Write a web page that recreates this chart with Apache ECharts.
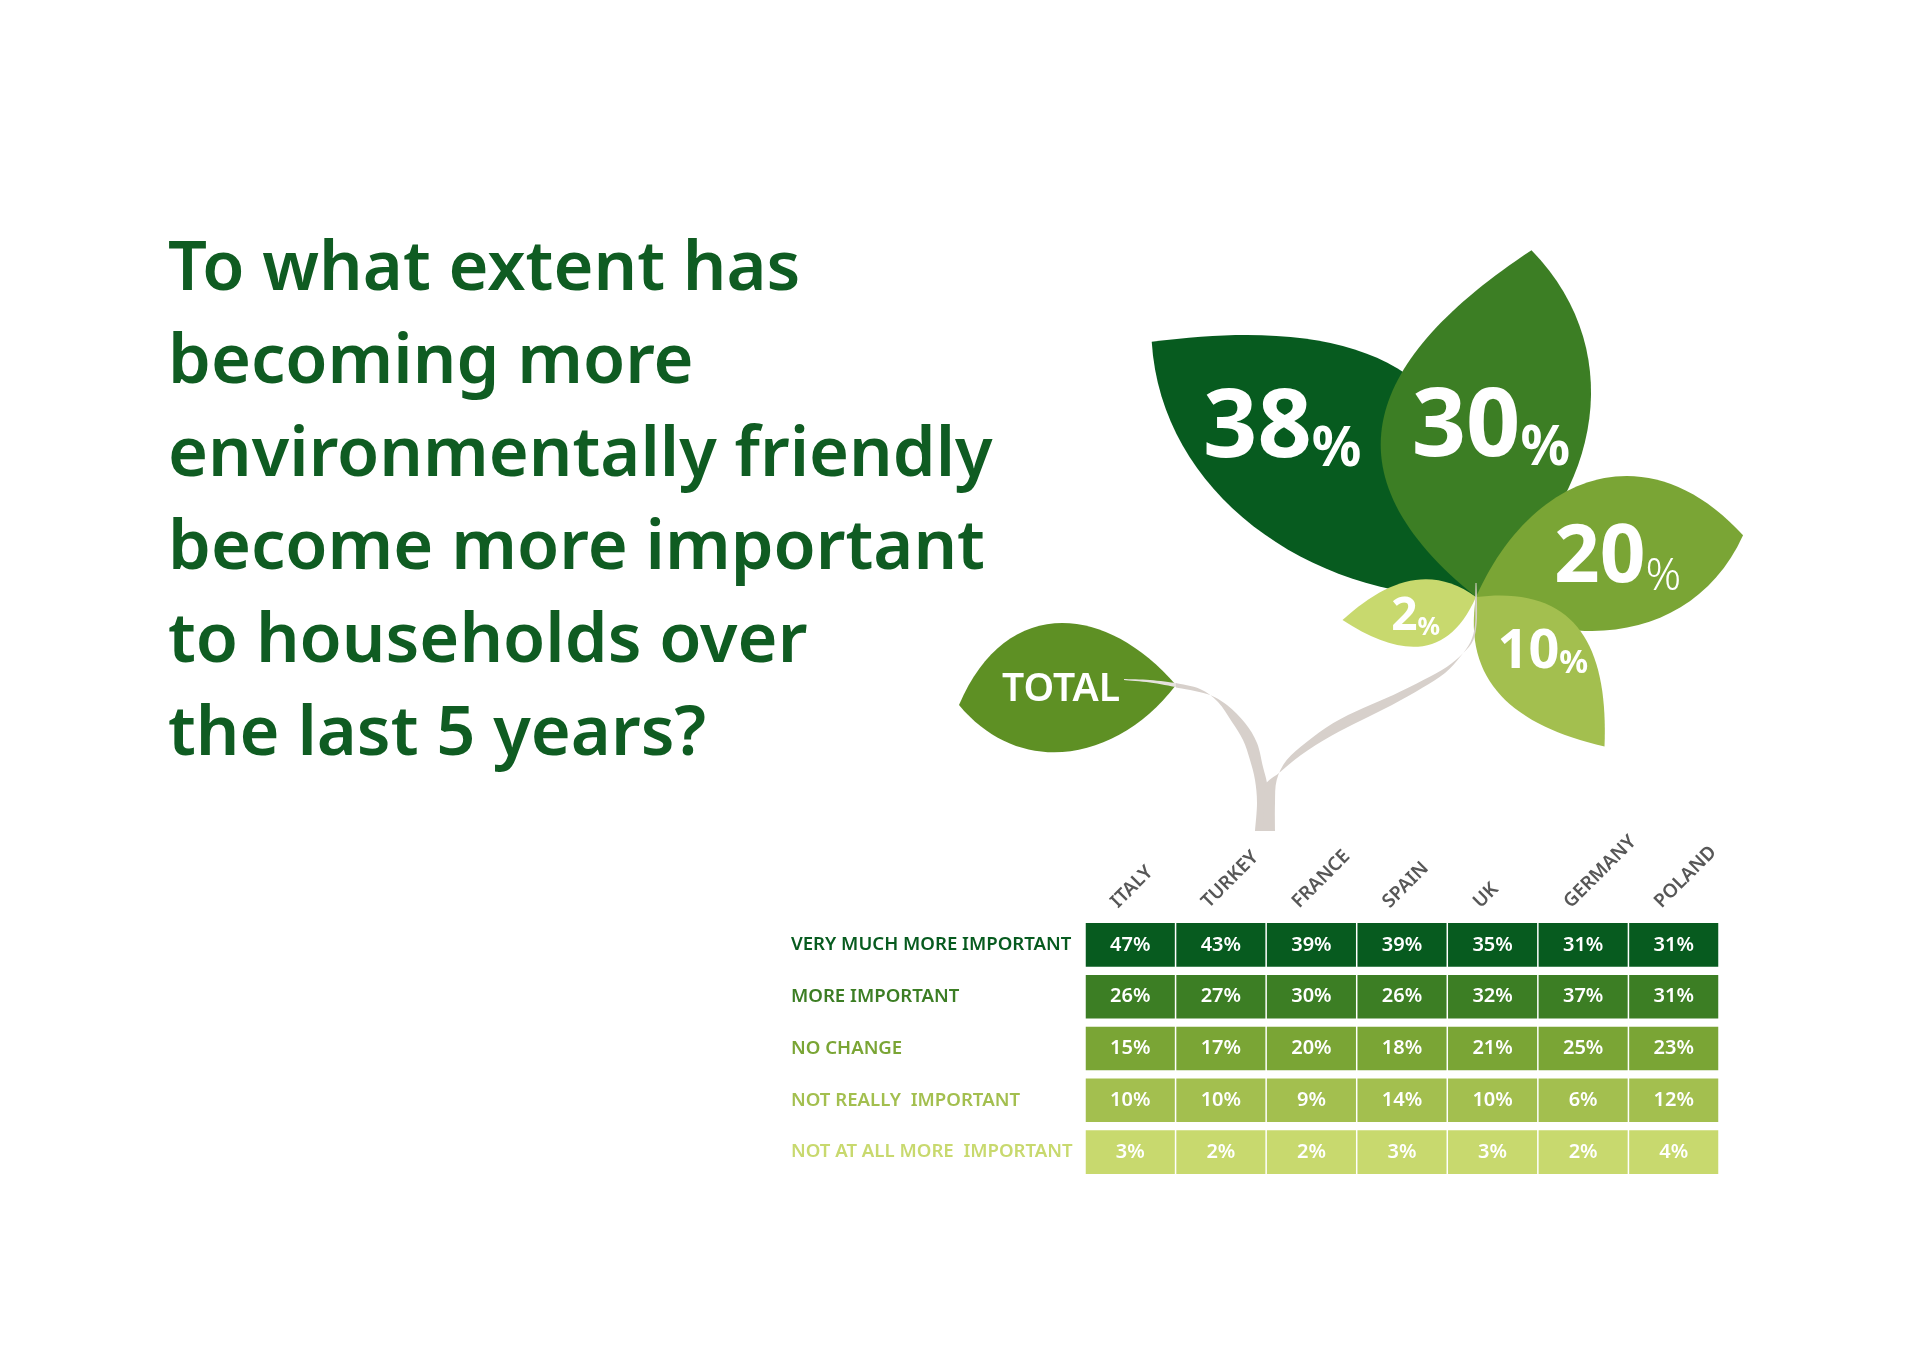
<!DOCTYPE html>
<html>
<head>
<meta charset="utf-8">
<title>Environmentally friendly - importance to households</title>
<script src="https://cdn.jsdelivr.net/npm/echarts@6/dist/echarts.min.js"></script>
<style>
    html, body { margin: 0; padding: 0; background: #ffffff; }
    #chart { width: 1920px; height: 1358px; }
</style>
</head>
<body>
<div id="chart"></div>
<script>
// ---- data ----
const titleLines = [
    'To what extent has',
    'becoming more',
    'environmentally friendly',
    'become more important',
    'to households over',
    'the last 5 years?'
];
const countries = ['ITALY', 'TURKEY', 'FRANCE', 'SPAIN', 'UK', 'GERMANY', 'POLAND'];
const answers = [
    'VERY MUCH MORE IMPORTANT',
    'MORE IMPORTANT',
    'NO CHANGE',
    'NOT REALLY  IMPORTANT',
    'NOT AT ALL MORE  IMPORTANT'
];
const veryMuchMore = [47, 43, 39, 39, 35, 31, 31];
const moreImportant = [26, 27, 30, 26, 32, 37, 31];
const noChange = [15, 17, 20, 18, 21, 25, 23];
const notReally = [10, 10, 9, 14, 10, 6, 12];
const notAtAll = [3, 2, 2, 3, 3, 2, 4];
const totalValues = [38, 30, 20, 10, 2];   // same order as answers
const totalLabel = 'TOTAL';

// ---- styles ----
const FONT = '"Noto Sans", "Open Sans", sans-serif';
const rowColors = ['#075b1f', '#3c7e24', '#7aa535', '#a3bf4f', '#c8d96e'];
const totalLeafColor = '#5e9024';
const stemColor = '#d7d0cb';

// leaf outlines: control points [along1, k1, along2, k2] (k times half width)
const SHAPE_TIP = [0.3, 1.25, 0.75, 1.4];
const SHAPE_MID = [0.28, 1.45, 0.62, 1.22];

// leaf direction (deg, counter-clockwise from east), half widths as share of length,
// label spot along the leaf axis, font sizes
const leafLayout = [
    { angle: 141.8, right: 0.32, left: 0.20, shapeR: SHAPE_MID, shapeL: SHAPE_TIP, along: 0.63, perp: 17, big: 95, small: 55, smallWeight: 700 },
    { angle: 80.9, right: 0.24, left: 0.34, shapeR: SHAPE_TIP, shapeL: SHAPE_MID, along: 0.50, perp: -13, big: 95, small: 55, smallWeight: 700 },
    { angle: 13.0, right: 0.235, left: 0.32, shapeR: SHAPE_TIP, shapeL: SHAPE_TIP, along: 0.54, perp: -11, big: 80, small: 44, smallWeight: 300 },
    { angle: 310.7, right: 0.23, left: 0.29, shapeR: SHAPE_MID, shapeL: SHAPE_MID, along: 0.42, perp: -17, big: 54, small: 32, smallWeight: 700 },
    { angle: 189.8, right: 0.20, left: 0.29, shapeR: SHAPE_MID, shapeL: SHAPE_MID, along: 0.46, perp: -6, big: 46, small: 25, smallWeight: 700 }
];

const tableRows = [veryMuchMore, moreImportant, noChange, notReally, notAtAll];
const cellData = [];
tableRows.forEach((row, r) => row.forEach((v, c) => cellData.push([c, r, v])));

// pointed leaf between base and tip, each side with its own bulge
function leafPath(bx, by, tx, ty, wRight, wLeft, shapeR, shapeL) {
    const dx = tx - bx, dy = ty - by;
    const len = Math.hypot(dx, dy);
    const ux = dx / len, uy = dy / len;
    const nx = -uy, ny = ux;
    const pt = (a, h) => (bx + ux * a * len + nx * h).toFixed(1) + ',' + (by + uy * a * len + ny * h).toFixed(1);
    const r = shapeR, l = shapeL;
    return 'M' + bx + ',' + by +
        'C' + pt(r[0], r[1] * wRight * len) + ' ' + pt(r[2], r[3] * wRight * len) + ' ' + tx + ',' + ty +
        'C' + pt(l[2], -l[3] * wLeft * len) + ' ' + pt(l[0], -l[1] * wLeft * len) + ' ' + bx + ',' + by + 'Z';
}

// smooth outline through points (catmull-rom)
function smoothEdge(pts) {
    let d = '';
    for (let i = 0; i < pts.length - 1; i++) {
        const p0 = pts[i - 1] || pts[i], p1 = pts[i], p2 = pts[i + 1], p3 = pts[i + 2] || p2;
        d += 'C' + (p1[0] + (p2[0] - p0[0]) / 6) + ',' + (p1[1] + (p2[1] - p0[1]) / 6) + ' ' +
            (p2[0] - (p3[0] - p1[0]) / 6) + ',' + (p2[1] - (p3[1] - p1[1]) / 6) + ' ' + p2[0] + ',' + p2[1];
    }
    return d;
}
function bandPath(outer, inner, cx, cy) {
    const o = outer.map(p => [p[0] + cx, p[1] + cy]);
    const n = inner.map(p => [p[0] + cx, p[1] + cy]);
    return 'M' + o[0][0] + ',' + o[0][1] + smoothEdge(o) + 'L' + n[0][0] + ',' + n[0][1] + smoothEdge(n) + 'Z';
}

// stem outlines, relative to where the leaves meet
const leftStemOuter = [[-300, 86], [-276, 92], [-258, 105], [-244, 125], [-233, 143], [-226, 163], [-221, 183], [-219, 206], [-221, 234]];
const leftStemInner = [[-205, 234], [-207, 205], [-209, 186], [-213, 170], [-219, 146], [-231, 126], [-249, 108], [-269, 97], [-300, 90.5]];
const rightStemOuter = [[0.5, -14], [1, 5], [0.7, 26], [-2.7, 43], [-12.7, 56], [-29.3, 70], [-52.7, 83], [-82.7, 98], [-112.7, 111], [-142.7, 126], [-169.3, 145], [-189.3, 163], [-199.3, 183], [-201, 206], [-201, 234]];
const rightStemInner = [[-213, 234], [-212, 205], [-210, 187], [-197, 176], [-175, 158], [-145, 139], [-114, 123], [-84, 108], [-54, 91], [-31, 76], [-16, 60], [-5.5, 45], [-1, 28], [-0.8, 5], [-0.5, -14]];

const chart = echarts.init(document.getElementById('chart'));

const option = {
    backgroundColor: '#ffffff',
    animation: false,
    title: {
        text: titleLines.join('\n'),
        left: 163,
        top: 219,
        textStyle: {
            fontFamily: FONT,
            fontSize: 68.5,
            fontWeight: 600,
            lineHeight: 93,
            color: '#0f5c22'
        }
    },
    grid: { left: 1085, top: 919, width: 634, height: 259 },
    xAxis: {
        type: 'category',
        data: countries,
        position: 'top',
        axisLine: { show: false },
        axisTick: { show: false },
        splitLine: { show: false },
        axisLabel: { show: false }
    },
    yAxis: {
        type: 'category',
        data: answers,
        inverse: true,
        axisLine: { show: false },
        axisTick: { show: false },
        splitLine: { show: false },
        axisLabel: {
            align: 'left',
            margin: 294,
            color: (value, index) => rowColors[index],
            fontFamily: FONT,
            fontSize: 18.6,
            fontWeight: 600
        }
    },
    polar: { center: [1476, 597], radius: 582 },
    angleAxis: { type: 'value', min: 0, max: 360, startAngle: 0, clockwise: false, show: false },
    radiusAxis: { type: 'value', min: -15.6, max: 60, show: false },
    series: [
        {
            name: 'table',
            type: 'custom',
            coordinateSystem: 'cartesian2d',
            data: cellData,
            encode: { x: 0, y: 1 },
            renderItem: function (params, api) {
                const r = api.value(1);
                const p = api.coord([api.value(0), r]);
                const s = api.size([1, 1]);
                const h = s[1] * 0.842;
                return {
                    type: 'group',
                    children: [
                        {
                            type: 'rect',
                            shape: { x: p[0] - s[0] / 2 + 0.75, y: p[1] - h / 2, width: s[0] - 1.5, height: h },
                            style: { fill: rowColors[r] }
                        },
                        {
                            type: 'text',
                            x: p[0],
                            y: p[1],
                            style: {
                                text: api.value(2) + '%',
                                fill: '#ffffff',
                                align: 'center',
                                verticalAlign: 'middle',
                                fontFamily: FONT,
                                fontSize: 20,
                                fontWeight: 600
                            }
                        }
                    ]
                };
            }
        },
        {
            name: 'countries',
            type: 'custom',
            coordinateSystem: 'cartesian2d',
            data: countries.map((c, i) => [i, 0]),
            encode: { x: 0, y: 1 },
            clip: false,
            renderItem: function (params, api) {
                const i = api.value(0);
                const p = api.coord([i, 0]);
                return {
                    type: 'text',
                    x: p[0] - 16,
                    y: params.coordSys.y - 14,
                    rotation: Math.PI / 4,
                    style: {
                        text: countries[i],
                        fill: '#575757',
                        align: 'left',
                        verticalAlign: 'middle',
                        fontFamily: FONT,
                        fontSize: 19,
                        fontWeight: 600
                    }
                };
            }
        },
        {
            name: 'total leaves',
            type: 'custom',
            coordinateSystem: 'polar',
            data: totalValues.map((v, i) => [v, leafLayout[i].angle]),
            renderItem: function (params, api) {
                const i = params.dataIndex;
                const L = leafLayout[i];
                const cx = params.coordSys.cx, cy = params.coordSys.cy;
                const tip = api.coord([api.value(0), api.value(1)]);
                const dx = tip[0] - cx, dy = tip[1] - cy;
                const len = Math.hypot(dx, dy);
                const ux = dx / len, uy = dy / len;
                const lx = cx + ux * L.along * len - uy * L.perp;
                const ly = cy + uy * L.along * len + ux * L.perp + L.big * 0.19;
                return {
                    type: 'group',
                    children: [
                        {
                            type: 'path',
                            shape: { pathData: leafPath(cx, cy, tip[0], tip[1], L.right, L.left, L.shapeR, L.shapeL) },
                            style: { fill: rowColors[i] }
                        },
                        {
                            type: 'text',
                            x: lx,
                            y: ly,
                            style: {
                                text: '{n|' + api.value(0) + '}{p|%}',
                                align: 'center',
                                verticalAlign: 'middle',
                                rich: {
                                    n: {
                                        fill: '#ffffff', fontFamily: FONT, fontWeight: 700,
                                        fontSize: L.big, lineHeight: L.big * 0.776, verticalAlign: 'bottom'
                                    },
                                    p: {
                                        fill: '#ffffff', fontFamily: FONT, fontWeight: L.smallWeight,
                                        fontSize: L.small, lineHeight: L.small * 0.776, verticalAlign: 'bottom'
                                    }
                                }
                            }
                        }
                    ]
                };
            }
        },
        {
            name: 'plant',
            type: 'custom',
            coordinateSystem: 'polar',
            data: [[-15.6, 0]],
            silent: true,
            renderItem: function (params) {
                const cx = params.coordSys.cx, cy = params.coordSys.cy;
                const base = [cx - 300, cy + 88];
                const tip = [cx - 517, cy + 108];
                return {
                    type: 'group',
                    children: [
                        {
                            type: 'path',
                            shape: { pathData: leafPath(base[0], base[1], tip[0], tip[1], 0.335, 0.26, SHAPE_TIP, SHAPE_TIP) },
                            style: { fill: totalLeafColor }
                        },
                        {
                            type: 'path',
                            shape: { pathData: bandPath(leftStemOuter, leftStemInner, cx, cy) },
                            style: { fill: stemColor }
                        },
                        {
                            type: 'path',
                            shape: { pathData: bandPath(rightStemOuter, rightStemInner, cx, cy) },
                            style: { fill: stemColor }
                        },
                        {
                            type: 'path',
                            shape: { pathData: bandPath([[-352, 82], [-326, 83], [-300, 86]], [[-300, 90], [-326, 85.5], [-352, 83]], cx, cy) },
                            style: { fill: '#e6e2de' }
                        },
                        {
                            type: 'text',
                            x: cx - 415,
                            y: cy + 93,
                            style: {
                                text: totalLabel,
                                fill: '#ffffff',
                                align: 'center',
                                verticalAlign: 'middle',
                                fontFamily: FONT,
                                fontSize: 39,
                                fontWeight: 600
                            }
                        }
                    ]
                };
            }
        }
    ]
};

chart.setOption(option);
</script>
</body>
</html>
